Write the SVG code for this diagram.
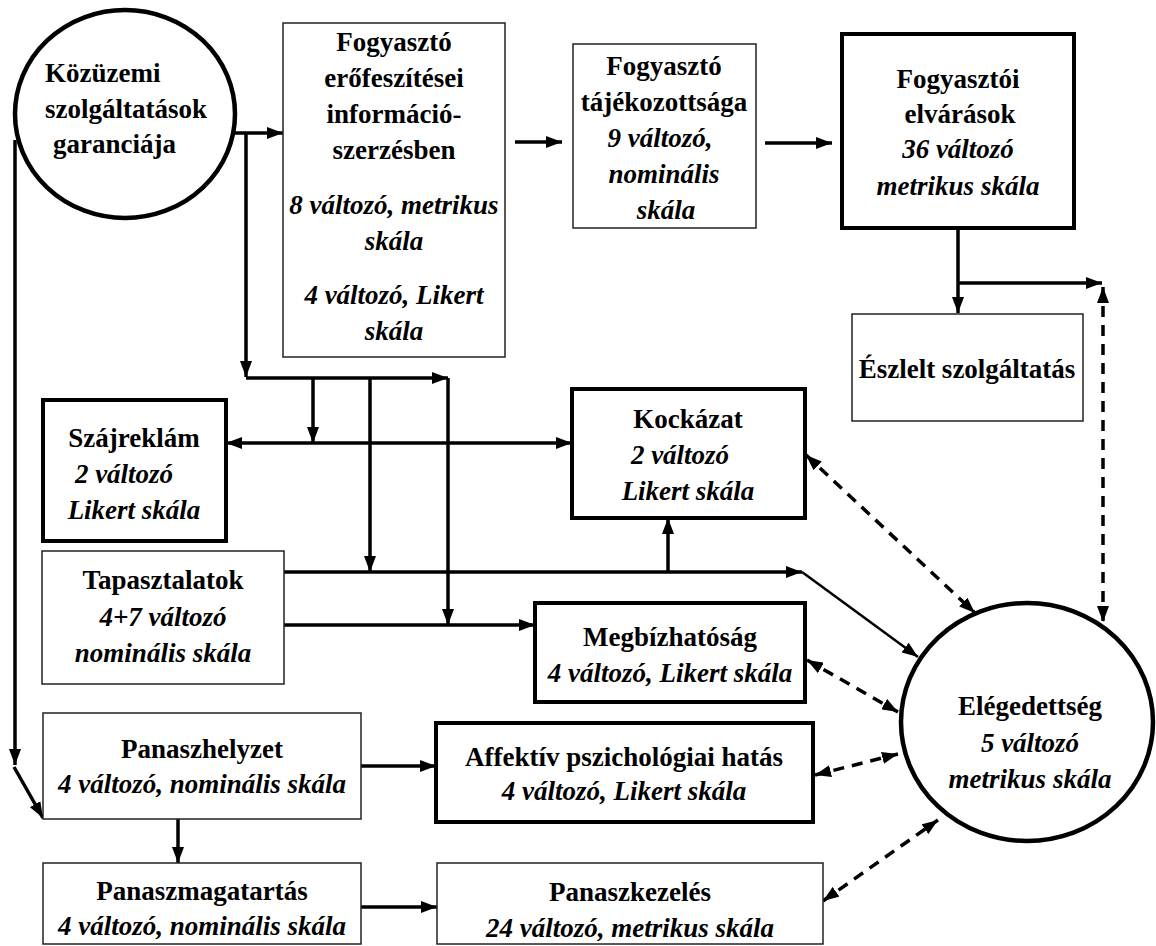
<svg xmlns="http://www.w3.org/2000/svg" width="1156" height="946" viewBox="0 0 1156 946">
  <style>
    text { font-family: Liberation Serif, Times New Roman, Tinos, Noto Serif, DejaVu Serif, FreeSerif, serif; font-size: 27px; font-weight: 700; fill: #000; }
    .c { text-anchor: middle; }
    .i { font-style: italic; }
    .thin { fill: #fff; stroke: #222; stroke-width: 1.5; }
    .thick { fill: #fff; stroke: #000; stroke-width: 4; }
    .ell { fill: #fff; stroke: #000; stroke-width: 4.5; }
    .ln { fill: none; stroke: #000; stroke-width: 3.5; }
    .ln2 { fill: none; stroke: #000; stroke-width: 2.5; }
    .dash { fill: none; stroke: #000; stroke-width: 3.5; stroke-dasharray: 11 8; }
  </style>
  <defs>
    <marker id="ah" viewBox="0 0 16 12" refX="16" refY="6" markerWidth="16" markerHeight="12" markerUnits="userSpaceOnUse" orient="auto-start-reverse">
      <path d="M0,0 L16,6 L0,12 z" fill="#000"/>
    </marker>
  </defs>
  <rect width="1156" height="946" fill="#fff"/>

  <!-- connectors -->
  <g id="connectors">
    <!-- guarantee circle to information search -->
    <path class="ln" d="M235,133 H283" marker-end="url(#ah)"/>
    <path class="ln" d="M246,133 V377" marker-end="url(#ah)"/>
    <path class="ln" d="M246,378 H448" marker-end="url(#ah)"/>
    <path class="ln" d="M313,378 V443" marker-end="url(#ah)"/>
    <path class="ln" d="M370,378 V572" marker-end="url(#ah)"/>
    <path class="ln" d="M448,378 V625" marker-end="url(#ah)"/>
    <!-- left trunk down to complaint situation -->
    <path class="ln" d="M15,140 V765" marker-end="url(#ah)"/>
    <path class="ln" d="M14,767 L43,818" marker-end="url(#ah)"/>
    <!-- top chain -->
    <path class="ln" d="M515,142 H562" marker-end="url(#ah)"/>
    <path class="ln" d="M765,143 H832" marker-end="url(#ah)"/>
    <path class="ln" d="M958,228 V313" marker-end="url(#ah)"/>
    <path class="ln" d="M958,283 H1102" marker-end="url(#ah)"/>
    <!-- word of mouth <-> risk -->
    <path class="ln" d="M226,443 H572" marker-start="url(#ah)" marker-end="url(#ah)"/>
    <!-- experiences -->
    <path class="ln" d="M284,572 H802" marker-end="url(#ah)"/>
    <path class="ln" d="M668,572 V518" marker-end="url(#ah)"/>
    <path class="ln2" d="M802,572 L918,657" marker-end="url(#ah)"/>
    <path class="ln" d="M284,625 H535" marker-end="url(#ah)"/>
    <!-- complaints -->
    <path class="ln" d="M178,819 V863" marker-end="url(#ah)"/>
    <path class="ln" d="M361,766 H436" marker-end="url(#ah)"/>
    <path class="ln" d="M361,907 H437" marker-end="url(#ah)"/>
    <!-- dashed links to satisfaction -->
    <path class="dash" d="M1103,287 V622" marker-start="url(#ah)" marker-end="url(#ah)"/>
    <path class="dash" d="M806,455 L975,613" marker-start="url(#ah)" marker-end="url(#ah)"/>
    <path class="dash" d="M807,660 L898,712" marker-start="url(#ah)" marker-end="url(#ah)"/>
    <path class="dash" d="M815,775 L898,754" marker-start="url(#ah)" marker-end="url(#ah)"/>
    <path class="dash" d="M823,901 L938,820" marker-start="url(#ah)" marker-end="url(#ah)"/>
  </g>

  <g id="garancia">
    <ellipse class="ell" cx="125" cy="114" rx="110" ry="104"/>
    <text x="45" y="82">Közüzemi</text>
    <text x="45" y="118">szolgáltatások</text>
    <text x="53" y="153">garanciája</text>
  </g>

  <g id="informacioszerzes">
    <rect class="thin" x="283" y="23" width="222" height="334"/>
    <text class="c" x="394" y="51">Fogyasztó</text>
    <text class="c" x="394" y="87">erőfeszítései</text>
    <text class="c" x="394" y="123">információ-</text>
    <text class="c" x="394" y="159">szerzésben</text>
    <text class="c i" x="394" y="214">8 változó, metrikus</text>
    <text class="c i" x="394" y="250">skála</text>
    <text class="c i" x="394" y="304">4 változó, Likert</text>
    <text class="c i" x="394" y="340">skála</text>
  </g>

  <g id="tajekozottsag">
    <rect class="thin" x="573" y="44" width="183" height="184"/>
    <text class="c" x="664" y="75">Fogyasztó</text>
    <text class="c" x="664" y="111">tájékozottsága</text>
    <text class="c i" x="660" y="147">9 változó,</text>
    <text class="c i" x="664" y="183">nominális</text>
    <text class="c i" x="666" y="219">skála</text>
  </g>

  <g id="elvarasok">
    <rect class="thick" x="842" y="34" width="232" height="194"/>
    <text class="c" x="958" y="88">Fogyasztói</text>
    <text class="c" x="960" y="123">elvárások</text>
    <text class="c i" x="958" y="158">36 változó</text>
    <text class="c i" x="958" y="195">metrikus skála</text>
  </g>

  <g id="eszlelt">
    <rect class="thin" x="852" y="314" width="231" height="107"/>
    <text class="c" x="967" y="378">Észlelt szolgáltatás</text>
  </g>

  <g id="szajreklam">
    <rect class="thick" x="43" y="400" width="183" height="141"/>
    <text class="c" x="134" y="447">Szájreklám</text>
    <text class="c i" x="124" y="483">2 változó</text>
    <text class="c i" x="134" y="519">Likert skála</text>
  </g>

  <g id="kockazat">
    <rect class="thick" x="572" y="389" width="233" height="129"/>
    <text class="c" x="688" y="428">Kockázat</text>
    <text class="c i" x="680" y="464">2 változó</text>
    <text class="c i" x="688" y="500">Likert skála</text>
  </g>

  <g id="tapasztalatok">
    <rect class="thin" x="42" y="551" width="242" height="133"/>
    <text class="c" x="163" y="589">Tapasztalatok</text>
    <text class="c i" x="163" y="626">4+7 változó</text>
    <text class="c i" x="163" y="662">nominális skála</text>
  </g>

  <g id="megbizhatosag">
    <rect class="thick" x="535" y="603" width="270" height="99"/>
    <text class="c" x="670" y="646">Megbízhatóság</text>
    <text class="c i" x="670" y="682">4 változó, Likert skála</text>
  </g>

  <g id="elegedettseg">
    <ellipse class="ell" cx="1027" cy="722" rx="126" ry="119"/>
    <text class="c" x="1030" y="715">Elégedettség</text>
    <text class="c i" x="1030" y="752">5 változó</text>
    <text class="c i" x="1030" y="788">metrikus skála</text>
  </g>

  <g id="panaszhelyzet">
    <rect class="thin" x="43" y="713" width="318" height="106"/>
    <text class="c" x="202" y="758">Panaszhelyzet</text>
    <text class="c i" x="202" y="793">4 változó, nominális skála</text>
  </g>

  <g id="affektiv">
    <rect class="thick" x="436" y="723" width="377" height="99"/>
    <text class="c" x="624" y="766">Affektív pszichológiai hatás</text>
    <text class="c i" x="624" y="800">4 változó, Likert skála</text>
  </g>

  <g id="panaszmagatartas">
    <rect class="thin" x="43" y="863" width="318" height="81"/>
    <text class="c" x="202" y="900">Panaszmagatartás</text>
    <text class="c i" x="202" y="935">4 változó, nominális skála</text>
  </g>

  <g id="panaszkezeles">
    <rect class="thin" x="437" y="863" width="386" height="81"/>
    <text class="c" x="630" y="901">Panaszkezelés</text>
    <text class="c i" x="630" y="937">24 változó, metrikus skála</text>
  </g>
</svg>
